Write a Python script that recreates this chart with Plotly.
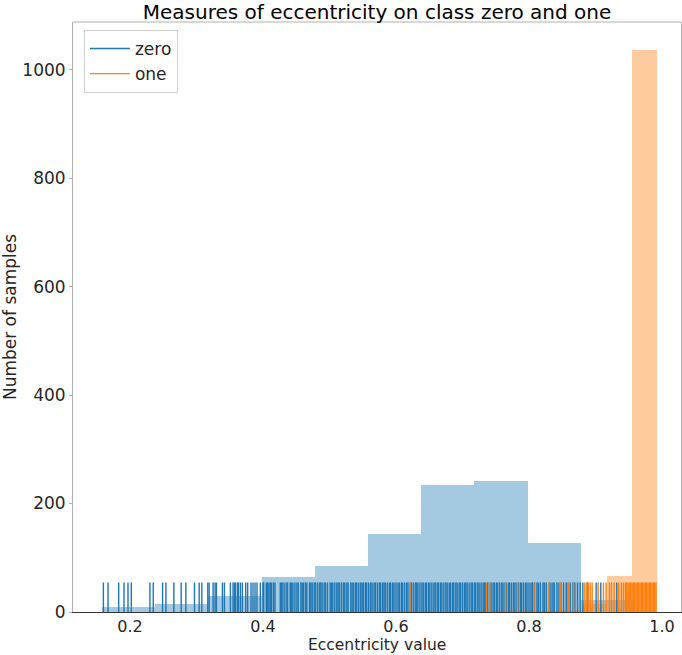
import plotly.graph_objects as go

# ---------------- data ----------------
# histogram of class "zero" (blue): 10 bins
zero_bin_start = 0.158
zero_bin_width = 0.080
zero_counts = [9, 14, 29, 65, 85, 143, 235, 242, 128, 22]

# histogram of class "one" (orange): 10 bins
one_bin_start = 0.616
one_bin_width = 0.0376
one_counts = [1, 0, 1, 3, 2, 3, 4, 15, 67, 1037]

# rug samples
zero_rug = [
    0.160, 0.167, 0.183, 0.191, 0.197, 0.202, 0.230, 0.235, 0.249, 0.254,
    0.266, 0.277, 0.284, 0.297, 0.304, 0.308, 0.317, 0.319, 0.325, 0.328,
    0.330, 0.339, 0.342, 0.351, 0.355, 0.357, 0.359, 0.362, 0.363, 0.366,
    0.369, 0.374, 0.377, 0.382, 0.385, 0.388, 0.391, 0.396, 0.400, 0.401,
    0.405, 0.407, 0.409,
    0.411, 0.413, 0.416, 0.418, 0.426, 0.428, 0.430, 0.433, 0.436, 0.437,
    0.441, 0.443, 0.445, 0.448, 0.451, 0.453, 0.457, 0.459, 0.461, 0.464,
    0.466, 0.470, 0.472, 0.474, 0.477, 0.479, 0.482, 0.485, 0.487, 0.489,
    0.492, 0.494, 0.497, 0.501, 0.503, 0.505, 0.508, 0.511, 0.513, 0.515,
    0.518, 0.521, 0.523, 0.526, 0.528, 0.532, 0.534, 0.536, 0.539, 0.541,
    0.544, 0.547, 0.549, 0.551, 0.554, 0.556, 0.559, 0.562, 0.564, 0.567,
    0.569, 0.572, 0.575, 0.577, 0.580, 0.582, 0.584, 0.587, 0.590, 0.592,
    0.595, 0.597, 0.600, 0.603, 0.605, 0.608, 0.610, 0.613, 0.616, 0.618,
    0.621, 0.623, 0.626, 0.629, 0.631, 0.633, 0.636, 0.639, 0.641, 0.644,
    0.646, 0.649, 0.651, 0.654, 0.657, 0.659, 0.662, 0.664, 0.667, 0.669,
    0.672, 0.675, 0.677, 0.680, 0.682, 0.685, 0.687, 0.690, 0.692, 0.695,
    0.697, 0.700, 0.703, 0.705, 0.707, 0.710, 0.713, 0.715, 0.718, 0.720,
    0.723, 0.725, 0.728, 0.731, 0.733, 0.735, 0.738, 0.741, 0.743, 0.746,
    0.748, 0.751, 0.753, 0.756, 0.759, 0.761, 0.764, 0.766, 0.769, 0.771,
    0.774, 0.777, 0.779, 0.782, 0.784, 0.787, 0.789, 0.792, 0.795, 0.797,
    0.800, 0.803, 0.805, 0.808, 0.812, 0.814, 0.817, 0.821, 0.823, 0.826,
    0.830, 0.833, 0.836, 0.838, 0.842, 0.845, 0.848, 0.852, 0.856, 0.859,
    0.862, 0.866, 0.869, 0.873, 0.877,
    0.881, 0.888, 0.901, 0.908, 0.932,
]

one_rug = [
    0.621, 0.736, 0.741, 0.765, 0.783, 0.809, 0.830, 0.847, 0.859, 0.867,
    0.884, 0.887, 0.889, 0.892, 0.895, 0.904, 0.912, 0.916, 0.921, 0.924,
    0.928, 0.935, 0.939, 0.942,
    0.945, 0.947, 0.949, 0.951, 0.953, 0.955, 0.957, 0.959, 0.961, 0.963,
    0.965, 0.967, 0.969, 0.971, 0.973, 0.975, 0.977, 0.979, 0.981, 0.983,
    0.985, 0.987, 0.989, 0.991,
]

x_ticks = [0.2, 0.4, 0.6, 0.8, 1.0]
x_tick_labels = ["0.2", "0.4", "0.6", "0.8", "1.0"]
y_ticks = [0, 200, 400, 600, 800, 1000]

X_RANGE = [0.1143, 1.0286]
Y_RANGE = [0, 1088]
RUG_FRAC = 0.05

BLUE = "#1f77b4"
ORANGE = "#ff7f0e"
FONT = "DejaVu Sans"

PLOT_BOTTOM_MARGIN = 43
PLOT_TOP_MARGIN = 22


def bin_centers(start, width, n):
    return [start + width * (i + 0.5) for i in range(n)]


def rug_xy(vals, h):
    xs, ys = [], []
    for v in vals:
        xs += [v, v, None]
        ys += [0, h, None]
    return xs, ys


rug_h = RUG_FRAC * Y_RANGE[1]

fig = go.Figure()

fig.add_trace(go.Bar(
    x=bin_centers(zero_bin_start, zero_bin_width, len(zero_counts)),
    y=zero_counts, width=zero_bin_width,
    marker=dict(color=BLUE, opacity=0.4, line=dict(width=0)),
    showlegend=False, hoverinfo="skip"))
fig.add_trace(go.Bar(
    x=bin_centers(one_bin_start, one_bin_width, len(one_counts)),
    y=one_counts, width=one_bin_width,
    marker=dict(color=ORANGE, opacity=0.4, line=dict(width=0)),
    showlegend=False, hoverinfo="skip"))

zx, zy = rug_xy(zero_rug, rug_h)
fig.add_trace(go.Scatter(x=zx, y=zy, mode="lines",
                         line=dict(color=BLUE, width=1.4), name="zero",
                         hoverinfo="skip"))
ox, oy = rug_xy(one_rug, rug_h)
fig.add_trace(go.Scatter(x=ox, y=oy, mode="lines",
                         line=dict(color=ORANGE, width=1.4), name="one",
                         hoverinfo="skip"))

plot_h = 655 - PLOT_BOTTOM_MARGIN - PLOT_TOP_MARGIN

fig.update_layout(
    width=682, height=655,
    margin=dict(l=73, r=1, t=PLOT_TOP_MARGIN, b=PLOT_BOTTOM_MARGIN),
    paper_bgcolor="white", plot_bgcolor="white",
    barmode="overlay", bargap=0,
    font=dict(family=FONT, color="#262626", size=17),
    title=dict(text="Measures of eccentricity on class zero and one",
               x=0.5, xref="paper", xanchor="center",
               y=1 - 12 / 655, yref="container", yanchor="middle",
               font=dict(size=20, color="black", family=FONT)),
    legend=dict(x=0.018, y=1 - 8 / plot_h, xanchor="left", yanchor="top",
                bgcolor="rgba(255,255,255,0.8)", bordercolor="#d0d0d0",
                borderwidth=1, itemwidth=40,
                font=dict(size=17, color="#262626")),
    showlegend=True,
)

fig.update_xaxes(
    range=X_RANGE, tickvals=x_ticks, ticktext=x_tick_labels,
    showgrid=False, zeroline=False, automargin=False,
    showline=True, linecolor="#333333", linewidth=1, mirror=False,
    ticks="inside", ticklen=0, tickcolor="#b0b0b0",
    tickfont=dict(size=16, color="#262626"),
)
fig.update_yaxes(
    range=Y_RANGE, tickvals=y_ticks,
    showgrid=False, zeroline=False, automargin=False,
    showline=True, linecolor="#b0b0b0", linewidth=1, mirror=True,
    ticks="outside", ticklen=3, tickcolor="#b0b0b0",
    ticklabelstandoff=0,
    tickfont=dict(size=17, color="#262626"),
    title=dict(text="Number of samples", font=dict(size=17), standoff=4),
)
fig.add_annotation(text="Eccentricity value", xref="paper", yref="paper",
                   x=0.5, y=-33 / plot_h, xanchor="center", yanchor="middle",
                   showarrow=False, font=dict(size=15.5, color="#262626"))
fig.add_shape(type="line", xref="paper", yref="paper", x0=0, x1=1, y0=1, y1=1,
              line=dict(color="#b0b0b0", width=1))

fig.write_html("out.html")
